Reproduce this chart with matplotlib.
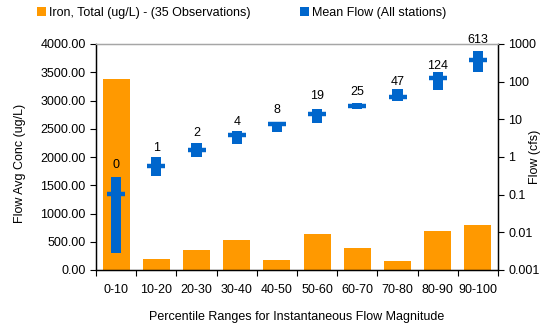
import matplotlib
matplotlib.use("Agg")
import matplotlib.pyplot as plt
from matplotlib.patches import Patch
from matplotlib.ticker import FixedLocator, FuncFormatter, NullLocator
import numpy as np

plt.rcParams["font.family"] = ["Liberation Sans", "DejaVu Sans"]
plt.rcParams["font.size"] = 9

# Percentile ranges of instantaneous flow
categories = ["0-10", "10-20", "20-30", "30-40", "40-50",
              "50-60", "60-70", "70-80", "80-90", "90-100"]

# Flow-averaged iron concentration (ug/L)
iron_conc = [3380, 195, 354, 531, 177, 637, 389, 165, 690, 796]

# Flow statistics (cfs): mean (labelled), range low/high, centre dash
flow_mean = [0.29, 0.8, 2, 4, 8, 19, 25, 47, 124, 613]
flow_low = [0.0029, 0.31, 1.01, 2.19, 4.7, 8.1, 19.1, 30, 58.7, 180]
flow_high = [0.30, 0.97, 2.29, 4.77, 8.1, 19.1, 27.6, 62, 180, 640]
flow_mid = [0.105, 0.58, 1.52, 3.8, 7.3, 13.7, 23, 39, 125, 375]

ORANGE = "#FF9900"
BLUE = "#0066CC"

fig = plt.figure(figsize=(5.43, 3.23), dpi=100)
ax = fig.add_axes([96 / 543, 53 / 323, 402 / 543, 226 / 323])
x = np.arange(len(categories))

ax.bar(x, iron_conc, width=0.67, color=ORANGE, zorder=1)
ax.set_xlim(-0.5, len(categories) - 0.5)
ax.set_ylim(0, 4000)
ax.set_yticks(np.arange(0, 4001, 500))
ax.yaxis.set_major_formatter(FuncFormatter(lambda v, p: f"{v:.2f}"))
ax.set_xticks(x)
ax.set_xticklabels(categories)
ax.xaxis.set_minor_locator(FixedLocator(np.arange(-0.5, len(categories), 1)))
ax.tick_params(axis="x", which="major", length=0, pad=10)
ax.tick_params(axis="x", which="minor", length=4, direction="out", width=0.8)
ax.tick_params(axis="y", length=4, direction="out", width=0.8)
ax.set_ylabel("Flow Avg Conc (ug/L)")
ax.yaxis.set_label_coords(-0.175, 0.47)
ax.set_xlabel("Percentile Ranges for Instantaneous Flow Magnitude", labelpad=11)

for side in ["left", "bottom", "right"]:
    ax.spines[side].set_color("black")
    ax.spines[side].set_linewidth(0.9)
ax.spines["top"].set_color("#A6A6A6")
ax.spines["top"].set_linewidth(1.0)

ax2 = ax.twinx()
ax2.set_yscale("log")
ax2.set_ylim(0.001, 1000)
low = np.array(flow_low)
high = np.array(flow_high)
ax2.bar(x, high - low, bottom=low, width=0.25, color=BLUE, zorder=3)
ax2.plot(x, flow_mid, ls="none", marker="_", markersize=13,
         markeredgewidth=3.2, color=BLUE, zorder=4)
for xi, m in zip(x, flow_mean):
    ax2.annotate(f"{m:.0f}", (xi, m), xytext=(0, 9), textcoords="offset points",
                 ha="center", va="center", fontsize=9, annotation_clip=False,
                 zorder=5)

ax2.yaxis.set_major_locator(FixedLocator([0.001, 0.01, 0.1, 1, 10, 100, 1000]))
ax2.yaxis.set_minor_locator(NullLocator())
ax2.yaxis.set_major_formatter(FuncFormatter(lambda v, p: f"{v:g}"))
ax2.tick_params(axis="y", length=4, direction="out", width=0.8)
ax2.set_ylabel("Flow (cfs)")
ax2.yaxis.label.set(ha="center", va="center", rotation=90)
ax2.yaxis.set_label_coords(1.0925, 0.5)
for side in ["left", "bottom", "right"]:
    ax2.spines[side].set_color("black")
    ax2.spines[side].set_linewidth(0.9)
ax2.spines["top"].set_color("#A6A6A6")

handles = [Patch(facecolor=ORANGE, edgecolor="none",
                 label="Iron, Total (ug/L) - (35 Observations)"),
           Patch(facecolor=BLUE, edgecolor="none",
                 label="Mean Flow (All stations)")]
fig.legend(handles=handles, loc="upper left", bbox_to_anchor=(37 / 543, 1 - 7 / 323),
           ncol=2, frameon=False, handlelength=0.7, handleheight=0.7,
           handletextpad=0.25, columnspacing=4.0, borderaxespad=0, borderpad=0,
           fontsize=9)

fig.savefig("out.png", dpi=100)
